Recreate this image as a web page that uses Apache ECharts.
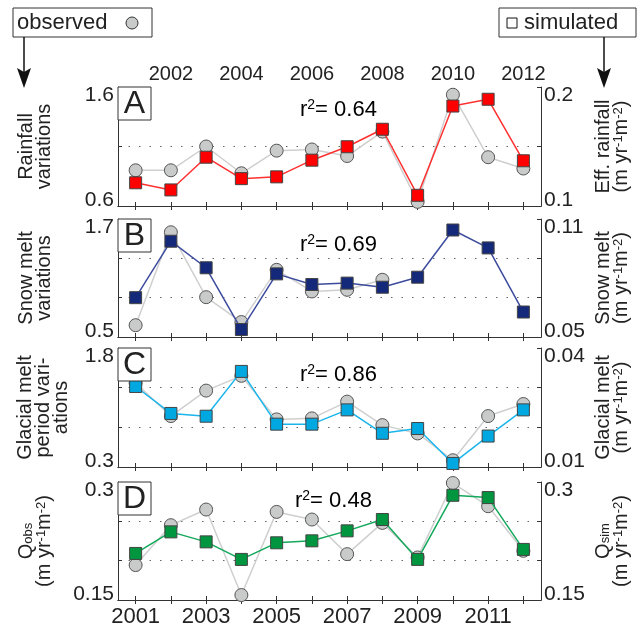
<!DOCTYPE html>
<html><head><meta charset="utf-8">
<script src="https://cdn.jsdelivr.net/npm/echarts@6/dist/echarts.min.js"></script>
<style>html,body{margin:0;padding:0;background:#fff}#c{width:640px;height:630px}</style>
</head><body><div id="c"></div>
<script>
const years = ['2001','2002','2003','2004','2005','2006','2007','2008','2009','2010','2011','2012'];

const rainObs = [0.90, 0.90, 1.10, 0.875, 1.065, 1.075, 1.02, 1.225, 0.635, 1.535, 1.01, 0.915];
const rainSim = [0.1195, 0.1135, 0.141, 0.123, 0.1245, 0.1385, 0.1498, 0.1645, 0.109, 0.184, 0.1897, 0.138];

const snowObs = [0.62, 1.565, 0.905, 0.652, 1.183, 0.963, 0.98, 1.082, null, null, null, null];
const snowSim = [0.070, 0.0987, 0.0852, 0.0538, 0.0821, 0.0767, 0.0774, 0.0753, 0.0804, 0.1044, 0.0953, 0.0627];

const glacObs = [1.357, 0.942, 1.263, 1.449, 0.90, 0.913, 1.124, 0.828, 0.723, 0.385, 0.942, 1.094];
const glacSim = [0.0303, 0.0235, 0.0228, 0.0341, 0.0208, 0.0208, 0.0244, 0.0185, 0.0197, 0.0109, 0.0178, 0.0244];

const qObs = [0.1944, 0.2451, 0.265, 0.1563, 0.262, 0.2523, 0.2083, 0.248, 0.2041, 0.2987, 0.2692, 0.2125];
const qSim = [0.2092, 0.2366, 0.2239, 0.2016, 0.2227, 0.2252, 0.2379, 0.2523, 0.2016, 0.2831, 0.2802, 0.2143];

const leftRanges = [[0.6, 1.6], [0.5, 1.7], [0.3, 1.8], [0.15, 0.3]];
const rightRanges = [[0.1, 0.2], [0.05, 0.11], [0.01, 0.04], [0.15, 0.3]];
const gridDivisions = [2, 3, 3, 3];
const panelLetters = ['A', 'B', 'C', 'D'];
const r2Labels = ['0.64', '0.69', '0.86', '0.48'];
const obsSeries = [rainObs, snowObs, glacObs, qObs];
const simSeries = [rainSim, snowSim, glacSim, qSim];
const simColors = ['#ff0000', '#15297b', '#00a8e2', '#00963f'];
const simLineColors = ['#ff3030', '#3c4b9e', '#1ab5ea', '#13a85a'];

// layout
const gridTops = [87, 219, 348, 482];
const gridHeights = [119, 118, 119, 118];
const gridLeft = 118, gridWidth = 423;
const r2Pos = [[300, 110], [300, 245], [300, 375], [295, 501]];

const FONT = "'Liberation Sans', Arial, Helvetica, sans-serif";
const TXT = '#222';
const AX = '#333';

const grids = [], xAxes = [], yAxes = [], series = [];
for (let i = 0; i < 4; i++) {
  grids.push({left: gridLeft, top: gridTops[i], width: gridWidth, height: gridHeights[i], containLabel: false});
  xAxes.push({
    type: 'category', data: years, gridIndex: i, position: 'bottom', boundaryGap: true,
    axisLine: {lineStyle: {color: AX, width: 1}},
    axisTick: {show: true, inside: true, alignWithLabel: true, interval: 0, length: 4, lineStyle: {color: AX}},
    axisLabel: {show: i === 3, interval: 1, fontSize: 22, fontFamily: FONT, color: TXT, margin: 6},
    splitLine: {show: false}
  });
  xAxes.push({
    type: 'category', data: years, gridIndex: i, position: 'top', boundaryGap: true,
    axisLine: {lineStyle: {color: AX, width: 1}},
    axisTick: {show: true, inside: true, alignWithLabel: true, interval: 0, length: 4, lineStyle: {color: AX}},
    axisLabel: {show: i === 0, interval: 0, fontSize: 20, fontFamily: FONT, color: TXT, margin: 3,
      formatter: v => (parseInt(v, 10) % 2 === 0 ? v : '')},
    splitLine: {show: false}
  });
  const mkData = (rng, pos) => ({
    type: 'value', gridIndex: i, position: pos, min: rng[0], max: rng[1],
    axisLine: {show: true, lineStyle: {color: AX, width: 1}},
    axisTick: {show: false}, splitLine: {show: false},
    axisLabel: {
      show: true, showMinLabel: true, showMaxLabel: true, fontSize: 21, fontFamily: FONT, color: TXT,
      margin: pos === 'left' ? 4 : 3,
      formatter: v => {
        if (Math.abs(v - rng[1]) < 1e-9) return '{t|' + rng[1] + '}';
        if (Math.abs(v - rng[0]) < 1e-9) return '{b|' + rng[0] + '}';
        return '';
      },
      rich: {
        t: {fontSize: 21, fontFamily: FONT, color: TXT, padding: [16, 0, 0, 0]},
        b: {fontSize: 21, fontFamily: FONT, color: TXT, padding: [0, 0, 12, 0]}
      }
    }
  });
  yAxes.push(mkData(leftRanges[i], 'left'));
  yAxes.push(mkData(rightRanges[i], 'right'));
  const mkHelper = (pos, grid) => ({
    type: 'value', gridIndex: i, position: pos, min: 0, max: gridDivisions[i], interval: 1,
    axisLine: {show: false}, axisLabel: {show: false},
    axisTick: {show: true, inside: true, length: 4, lineStyle: {color: AX}},
    splitLine: {show: grid, showMinLine: false, showMaxLine: false,
      lineStyle: {color: '#666', type: [1.5, 9], width: 1}}
  });
  yAxes.push(mkHelper('left', true));
  yAxes.push(mkHelper('right', false));

  series.push({
    type: 'line', xAxisIndex: 2 * i, yAxisIndex: 4 * i, data: obsSeries[i], connectNulls: false,
    symbol: 'circle', symbolSize: 13, z: 3,
    itemStyle: {color: '#c9cbcb', borderColor: '#555', borderWidth: 1},
    lineStyle: {color: '#cfcfcf', width: 1.5}
  });
  series.push({
    type: 'line', xAxisIndex: 2 * i, yAxisIndex: 4 * i + 1, data: simSeries[i],
    symbol: 'rect', symbolSize: 12, z: 4,
    itemStyle: {color: simColors[i], borderColor: '#444', borderWidth: 1},
    lineStyle: {color: simLineColors[i], width: 1.5}
  });
}

const unitRich = {
  n: {fontSize: 20, fontFamily: FONT, color: TXT, lineHeight: 18},
  sup: {fontSize: 13, fontFamily: FONT, color: TXT, verticalAlign: 'top', lineHeight: 18},
  sub: {fontSize: 13, fontFamily: FONT, color: TXT, verticalAlign: 'bottom', lineHeight: 14}
};
const unitText = '{n|(m yr}{sup|-1}{n|m}{sup|-2}{n|)}';

function vtext(x, y, text, rich) {
  return {
    type: 'text', x: x, y: y, rotation: Math.PI / 2, z: 50,
    style: {text: text, align: 'center', verticalAlign: 'middle', fontSize: 20, fontFamily: FONT,
      fill: TXT, lineHeight: 18, rich: rich}
  };
}

const graphics = [];
for (let i = 0; i < 4; i++) {
  graphics.push({type: 'rect', z: 60, shape: {x: gridLeft, y: gridTops[i], width: 33, height: 33},
    style: {fill: '#fff', stroke: AX, lineWidth: 1}});
  graphics.push({type: 'text', z: 61, x: gridLeft + 16.5, y: gridTops[i] + 17.5,
    style: {text: panelLetters[i], align: 'center', verticalAlign: 'middle', fontSize: 32, fontFamily: FONT, fill: TXT}});
  graphics.push({type: 'text', z: 61, x: r2Pos[i][0], y: r2Pos[i][1],
    style: {text: '{a|r}{s|2}{a|= ' + r2Labels[i] + '}', align: 'left', verticalAlign: 'middle',
      rich: {a: {fontSize: 22, fontFamily: FONT, color: TXT, lineHeight: 24},
             s: {fontSize: 14, fontFamily: FONT, color: TXT, verticalAlign: 'top', lineHeight: 24}}}});
}
const leftTitleX = [35, 35, 43, 35];
const leftTitles = [
  '{n|Rainfall}\n{n|variations}',
  '{n|Snow melt}\n{n|variations}',
  '{n|Glacial melt}\n{n|period vari-}\n{n|ations}',
  '{n|Q}{sub|obs}\n' + unitText
];
const rightTitles = [
  '{n|Eff. rainfall}\n' + unitText,
  '{n|Snow melt}\n' + unitText,
  '{n|Glacial melt}\n' + unitText,
  '{n|Q}{sub|sim}\n' + unitText
];
for (let i = 0; i < 4; i++) {
  const cy = gridTops[i] + gridHeights[i] / 2;
  graphics.push(vtext(leftTitleX[i], cy, leftTitles[i], unitRich));
  graphics.push(vtext(612, cy, rightTitles[i], unitRich));
}
// legend boxes
graphics.push({type: 'rect', z: 60, shape: {x: 13, y: 8, width: 139, height: 29}, style: {fill: '#fff', stroke: AX, lineWidth: 1}});
graphics.push({type: 'text', z: 61, x: 17, y: 23, style: {text: 'observed', align: 'left', verticalAlign: 'middle', fontSize: 22, fontFamily: FONT, fill: TXT}});
graphics.push({type: 'circle', z: 61, shape: {cx: 132, cy: 23, r: 6}, style: {fill: '#c9cbcb', stroke: AX, lineWidth: 1}});
graphics.push({type: 'line', z: 61, shape: {x1: 24, y1: 37, x2: 24, y2: 78}, style: {stroke: '#111', lineWidth: 1.5}});
graphics.push({type: 'polygon', z: 61, shape: {points: [[17, 68], [24, 72], [31, 68], [24, 88]]}, style: {fill: '#111'}});

graphics.push({type: 'rect', z: 60, shape: {x: 499, y: 8, width: 137, height: 29}, style: {fill: '#fff', stroke: AX, lineWidth: 1}});
graphics.push({type: 'rect', z: 61, shape: {x: 507, y: 18, width: 10, height: 10}, style: {fill: '#fff', stroke: '#111', lineWidth: 1}});
graphics.push({type: 'text', z: 61, x: 524, y: 23, style: {text: 'simulated', align: 'left', verticalAlign: 'middle', fontSize: 22, fontFamily: FONT, fill: TXT}});
graphics.push({type: 'line', z: 61, shape: {x1: 604, y1: 37, x2: 604, y2: 78}, style: {stroke: '#111', lineWidth: 1.5}});
graphics.push({type: 'polygon', z: 61, shape: {points: [[597, 68], [604, 72], [611, 68], [604, 88]]}, style: {fill: '#111'}});

const chart = echarts.init(document.getElementById('c'), null, {renderer: 'canvas'});
chart.setOption({
  animation: false,
  backgroundColor: '#fff',
  grid: grids, xAxis: xAxes, yAxis: yAxes, series: series,
  graphic: {elements: graphics}
});
</script></body></html>
